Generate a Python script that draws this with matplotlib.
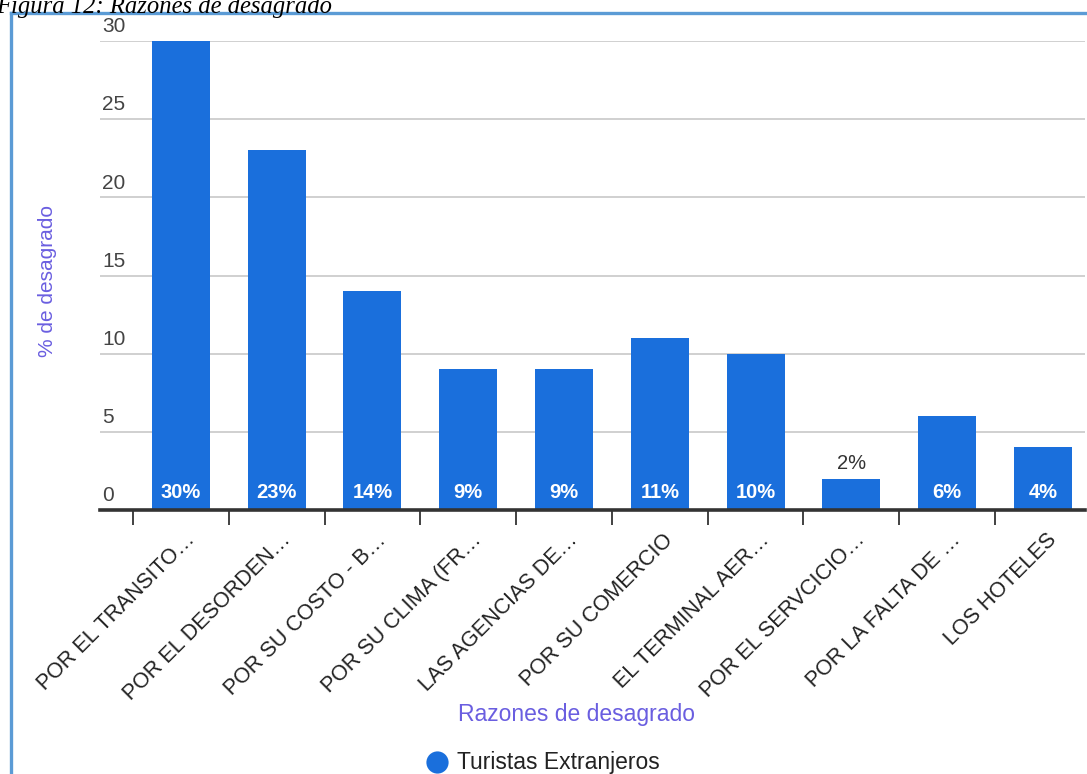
import matplotlib
matplotlib.use("Agg")
import matplotlib.pyplot as plt
import matplotlib.transforms as mtransforms
from matplotlib.lines import Line2D
from matplotlib.ticker import FixedLocator, NullFormatter

categories = [
    "POR EL TRANSITO…", "POR EL DESORDEN…", "POR SU COSTO - B…",
    "POR SU CLIMA (FR…", "LAS AGENCIAS DE…", "POR SU COMERCIO",
    "EL TERMINAL AER…", "POR EL SERVCICIO…", "POR LA FALTA DE …",
    "LOS HOTELES",
]
values = [30, 23, 14, 9, 9, 11, 10, 2, 6, 4]
y_ticks = [0, 5, 10, 15, 20, 25, 30]
series_name = "Turistas Extranjeros"
x_title = "Razones de desagrado"
y_title = "% de desagrado"
caption = "Figura 12: Razones de desagrado"

W, H = 1087, 774
BAR = "#1a6fdc"
AXIS_TITLE = "#6a5ee0"
plt.rcParams["font.family"] = ["Liberation Sans", "DejaVu Sans"]

fig = plt.figure(figsize=(W / 100, H / 100), dpi=100)
fig.patch.set_facecolor("white")

def px(x, y):
    return x / W, 1 - y / H

# plot area in pixels
left, right, top, bottom = 100, 1085, 41, 510
ax = fig.add_axes([left / W, 1 - bottom / H, (right - left) / W, (bottom - top) / H])
ax.set_facecolor("none")
for s in ax.spines.values():
    s.set_visible(False)

xs = list(range(len(values)))
ax.set_xlim(-0.845, 9.44)
ax.set_ylim(0, 30)

# gridlines with their labels sitting just above them
for t in y_ticks:
    if t > 0:
        ax.axhline(t, color="#c8c8c8", lw=1.2, zorder=0)
    ax.text(-0.825, t + 0.3, str(t), ha="left", va="bottom", fontsize=15,
            color="#444444", clip_on=False)
ax.set_yticks([])

ax.bar(xs, values, width=0.605, color=BAR, zorder=2)

for x, v in zip(xs, values):
    if v >= 4:
        ax.text(x, 1.1, f"{v}%", ha="center", va="center", fontsize=14.5,
                fontweight="bold", color="white", zorder=3)
    else:
        ax.text(x, v + 1.0, f"{v}%", ha="center", va="center", fontsize=14.5,
                color="#333333", zorder=3)

# baseline
ax.axhline(0, color="#333333", lw=2.6, zorder=4, clip_on=False)

# tick marks at category boundaries, labels at bar centers
ax.xaxis.set_minor_locator(FixedLocator([x - 0.5 for x in xs]))
ax.xaxis.set_minor_formatter(NullFormatter())
ax.tick_params(axis="x", which="minor", length=11, width=1.3, color="#333333")
ax.set_xticks(xs)
ax.set_xticklabels(categories, rotation=45, ha="right", va="top",
                   rotation_mode="anchor", fontsize=15.5, color="#222222")
ax.tick_params(axis="x", which="major", length=0, pad=14)
shift = mtransforms.ScaledTranslation(0.03, 0, fig.dpi_scale_trans)
for lbl in ax.get_xticklabels():
    lbl.set_transform(lbl.get_transform() + shift)

# axis titles
fig.text(*px(576, 715), x_title, ha="center", va="center", fontsize=16.5,
         color=AXIS_TITLE)
fig.text(*px(48, 281), y_title, ha="center", va="center", fontsize=15,
         color=AXIS_TITLE, rotation=90)

# legend
lx, ly = px(437, 762)
fig.add_artist(Line2D([lx], [ly], marker="o", markersize=16, color=BAR,
                      markeredgewidth=0, linestyle="none"))
fig.text(*px(457, 762), series_name, ha="left", va="center", fontsize=16.5,
         color="#222222")

# frame
fig.add_artist(Line2D([11 / W, 11 / W], [1 - 13 / H, 0], color="#5b9bd5", lw=2.4))
fig.add_artist(Line2D([11 / W, 1], [1 - 13 / H, 1 - 13 / H], color="#5b9bd5", lw=2.4))

# caption above the frame
fig.text(-0.004, 1 - 13 / H, caption, ha="left", va="baseline", fontsize=17.7,
         family="Liberation Serif", style="italic", color="black")

fig.savefig("out.png", dpi=100, facecolor="white")
